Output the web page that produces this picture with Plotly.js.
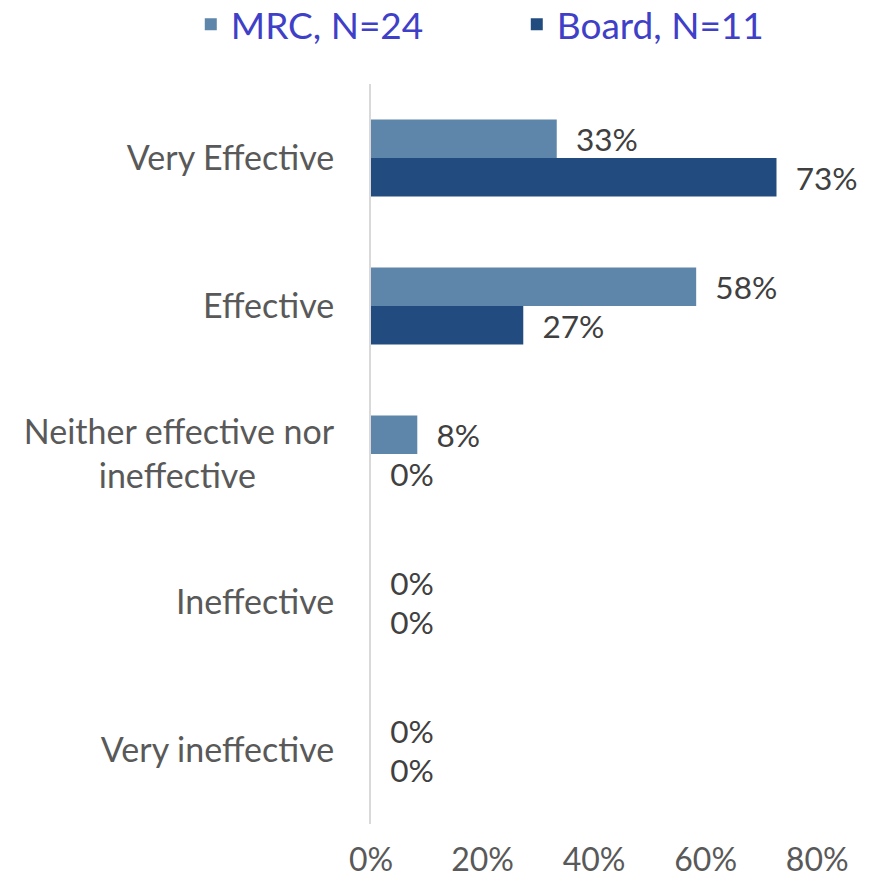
<!DOCTYPE html>
<html>
<head>
<meta charset="utf-8">
<script src="https://cdn.plot.ly/plotly-3.0.1.min.js"></script>
<style>
  html, body { margin: 0; padding: 0; background: #fff; }
  #chart { width: 879px; height: 887px; }
</style>
</head>
<body>
<div id="chart"></div>
<script>
// categories, top to bottom
const categories = [
  'Very Effective',
  'Effective',
  'Neither effective nor<br>ineffective\u00a0\u00a0\u00a0\u00a0\u00a0\u00a0\u00a0\u00a0\u00a0',
  'Ineffective',
  'Very ineffective'
];

// share of respondents
const mrcValues = [0.333, 0.583, 0.083, 0, 0];
const boardValues = [0.727, 0.273, 0, 0, 0];

const seriesNames = ['MRC, N=24', 'Board, N=11'];
const seriesColors = ['#5e86aa', '#224c80'];

const FONT = 'Lato, "Open Sans", sans-serif';

const makeTrace = (values, i) => ({
  type: 'bar',
  orientation: 'h',
  name: seriesNames[i],
  y: categories,
  x: values,
  marker: { color: seriesColors[i], line: { width: 0 } },
  texttemplate: '\u00a0\u00a0%{x:.0%}',
  textposition: 'outside',
  cliponaxis: false,
  textfont: { family: FONT, size: 32, color: '#404040' },
  hoverinfo: 'skip'
});

const data = [makeTrace(mrcValues, 0), makeTrace(boardValues, 1)];

const layout = {
  width: 879,
  height: 887,
  paper_bgcolor: '#fff',
  plot_bgcolor: '#fff',
  font: { family: FONT, size: 32, color: '#595959' },
  margin: { l: 371, r: 6, t: 84, b: 63, autoexpand: false },
  barmode: 'group',
  bargap: 0.48,
  bargroupgap: 0,
  showlegend: true,
  legend: {
    orientation: 'h',
    x: -0.359,
    xanchor: 'left',
    y: 1.122,
    yanchor: 'top',
    entrywidth: 281,
    entrywidthmode: 'pixels',
    traceorder: 'normal',
    itemclick: false,
    font: { family: FONT, size: 37, color: '#3f40c8' }
  },
  xaxis: {
    range: [0, 0.9],
    tickvals: [0, 0.2, 0.4, 0.6, 0.8],
    tickformat: '.0%',
    showgrid: false,
    zeroline: false,
    showline: false,
    ticks: '',
    ticklabelstandoff: 14,
    tickfont: { family: FONT, size: 32, color: '#595959' }
  },
  yaxis: {
    autorange: 'reversed',
    type: 'category',
    showgrid: false,
    zeroline: false,
    showline: true,
    linecolor: '#d9d9d9',
    linewidth: 2,
    ticks: '',
    ticklabelstandoff: 28,
    tickfont: { family: FONT, size: 34, color: '#595959' }
  }
};

Plotly.newPlot('chart', data, layout, { displayModeBar: false, staticPlot: true });
</script>
</body>
</html>
